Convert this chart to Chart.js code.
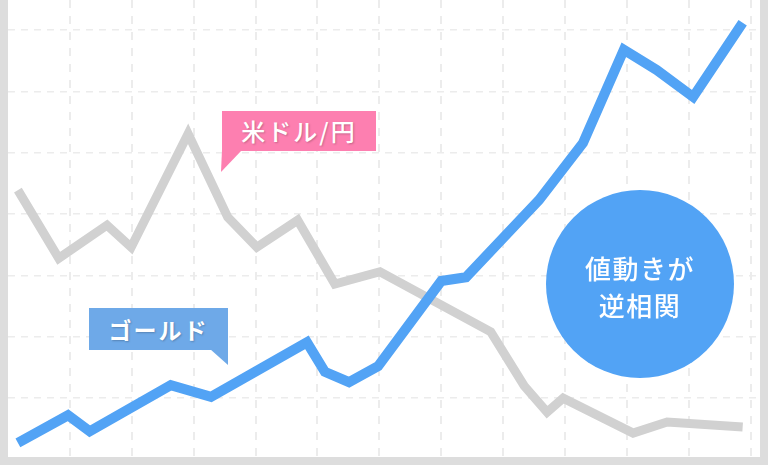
<!DOCTYPE html>
<html>
<head>
<meta charset="utf-8">
<script src="https://cdn.jsdelivr.net/npm/chart.js@4.4.1/dist/chart.umd.min.js"></script>
<style>
  html, body { margin: 0; padding: 0; background: #ffffff; }
  #wrap { position: relative; width: 768px; height: 465px; background: #dddddd; overflow: hidden;
          font-family: "Noto Sans CJK JP", "Noto Sans", sans-serif; }
  #c { position: absolute; left: 8px; top: 0; width: 752px; height: 457px; background: #ffffff; }
  .box { position: absolute; color: #ffffff; font-weight: 700; text-align: center; white-space: nowrap;
         text-shadow: 1px 1px 2px rgba(0,0,0,0.22); }
  .tail { position: absolute; }
  #pink { left: 222px; top: 111px; width: 154px; height: 40px; line-height: 40px; background: #fd7fb0;
          font-size: 24px; letter-spacing: 2px; font-weight: 500; }
  #pinkTail { left: 221px; top: 150px; width: 22px; height: 22px; background: #fd7fb0;
              clip-path: polygon(1px 0, 21px 0, 0 22px); }
  #gold { left: 89px; top: 308px; width: 139px; height: 42px; line-height: 42px; background: #6ea9e8;
          font-size: 23px; letter-spacing: 2px; }
  #goldTail { left: 210px; top: 349px; width: 18px; height: 16px; background: #6ea9e8;
              clip-path: polygon(0 0, 18px 0, 18px 16px); }
  #circle { position: absolute; left: 546px; top: 190px; width: 188px; height: 188px; border-radius: 50%;
            background: #52a3f5; color: #ffffff; text-align: center; font-size: 26px; font-weight: 500;
            letter-spacing: 1.5px; }
  #circle div { position: absolute; left: 0; width: 100%; line-height: 37px; }
</style>
</head>
<body>
<div id="wrap">
  <canvas id="c" width="752" height="457"></canvas>
  <div id="pinkTail" class="tail"></div>
  <div id="pink" class="box">米ドル/円</div>
  <div id="goldTail" class="tail"></div>
  <div id="gold" class="box">ゴールド</div>
  <div id="circle"><div style="top:59px">値動きが</div><div style="top:96px">逆相関</div></div>
</div>
<script>
// Series names
const seriesNames = ["ゴールド", "米ドル/円"];

// Gold (blue) series: x positions and values (grid units)
const goldX = [0.16, 0.97, 1.32, 2.63, 3.28, 4.83, 5.12, 5.51, 5.98, 7.00, 7.40, 8.58, 9.29, 9.95, 10.48, 11.07, 11.87];
const goldY = [0.27, 0.72, 0.46, 1.21, 1.02, 1.91, 1.43, 1.26, 1.52, 2.91, 2.97, 4.23, 5.16, 6.68, 6.35, 5.91, 7.12];

// USD/JPY (grey) series: x positions and values (grid units)
const usdX = [0.16, 0.82, 1.60, 1.99, 2.91, 3.55, 4.02, 4.68, 5.28, 6.01, 7.80, 8.34, 8.71, 8.97, 10.10, 10.65, 11.87];
const usdY = [4.39, 3.28, 3.82, 3.46, 5.31, 3.95, 3.46, 3.90, 2.86, 3.06, 2.08, 1.20, 0.77, 1.00, 0.43, 0.61, 0.53];

// Grid tick positions
const xTicks = [1, 2, 3, 4, 5, 6, 7, 8, 9, 10, 11, 12];
const yTicks = [1, 2, 3, 4, 5, 6, 7];
const xRange = [0, 12.15];
const yRange = [0.04, 7.49];

const toPts = (xs, ys) => xs.map((x, i) => ({ x: x, y: ys[i] }));

new Chart(document.getElementById('c'), {
  type: 'line',
  data: {
    datasets: [
      { label: seriesNames[0], data: toPts(goldX, goldY), borderColor: '#52a3f5', borderWidth: 10,
        pointRadius: 0, borderJoinStyle: 'miter', borderCapStyle: 'butt', tension: 0, fill: false },
      { label: seriesNames[1], data: toPts(usdX, usdY), borderColor: '#d1d1d1', borderWidth: 9,
        pointRadius: 0, borderJoinStyle: 'miter', borderCapStyle: 'butt', tension: 0, fill: false }
    ]
  },
  options: {
    responsive: false,
    animation: false,
    devicePixelRatio: 1,
    layout: { padding: 0 },
    plugins: { legend: { display: false }, tooltip: { enabled: false } },
    scales: {
      x: {
        type: 'linear', min: xRange[0], max: xRange[1],
        afterBuildTicks: s => { s.ticks = xTicks.map(v => ({ value: v })); },
        ticks: { display: false },
        grid: { color: '#ececec', lineWidth: 2, drawTicks: false },
        border: { display: false, dash: [8, 8] }
      },
      y: {
        type: 'linear', min: yRange[0], max: yRange[1],
        afterBuildTicks: s => { s.ticks = yTicks.map(v => ({ value: v })); },
        ticks: { display: false },
        grid: { color: '#ececec', lineWidth: 1.5, drawTicks: false },
        border: { display: false, dash: [7, 6] }
      }
    }
  }
});
</script>
</body>
</html>
